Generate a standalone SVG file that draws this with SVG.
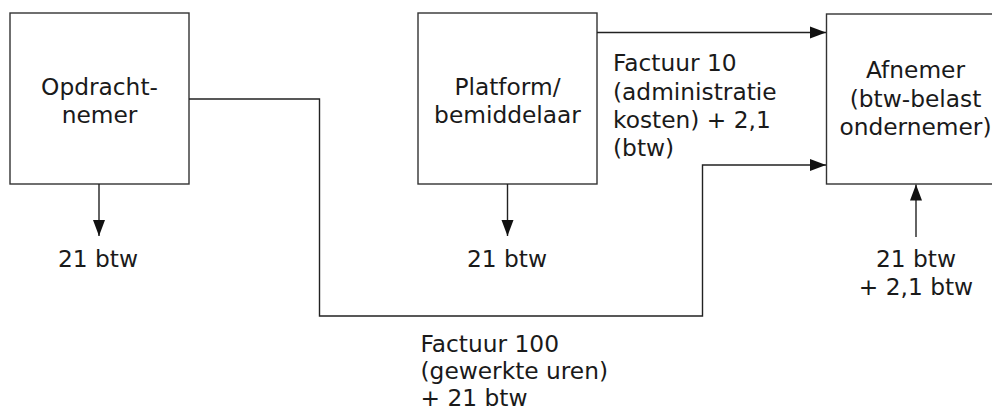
<svg xmlns="http://www.w3.org/2000/svg" width="992" height="412" viewBox="0 0 992 412">
<style>
.box{fill:#fff;stroke:#333;stroke-width:1.4}
.ln{fill:none;stroke:#222;stroke-width:1.4}
text{font-family:"DejaVu Sans","Verdana",sans-serif;font-size:23.3px;fill:#1a1a1a}
.c{text-anchor:middle}
</style>
<defs>
<marker id="ah" markerUnits="userSpaceOnUse" markerWidth="16" markerHeight="13" refX="16" refY="6.5" orient="auto">
<path d="M0,0.5 L16,6.5 L0,12.5 z" fill="#111"/>
</marker>
</defs>
<rect width="992" height="412" fill="#fff"/>
<g id="opdrachtnemer">
<rect class="box" x="10" y="13" width="179" height="171"/>
<text class="c" x="99.5" y="94.5">Opdracht-</text>
<text class="c" x="99.5" y="123">nemer</text>
</g>
<g id="platform">
<rect class="box" x="418" y="13" width="179" height="171"/>
<text class="c" x="507.5" y="94.5">Platform/</text>
<text class="c" x="507.5" y="123">bemiddelaar</text>
</g>
<g id="afnemer">
<rect class="box" x="826.5" y="14" width="179" height="170"/>
<text class="c" x="915.5" y="78">Afnemer</text>
<text class="c" x="915.5" y="106.5">(btw-belast</text>
<text class="c" x="915.5" y="135">ondernemer)</text>
</g>
<g id="connectors">
<line class="ln" x1="99" y1="184" x2="99" y2="236" marker-end="url(#ah)"/>
<line class="ln" x1="507.5" y1="184" x2="507.5" y2="236" marker-end="url(#ah)"/>
<line class="ln" x1="916" y1="237" x2="916" y2="184.5" marker-end="url(#ah)"/>
<line class="ln" x1="597" y1="32.5" x2="826" y2="32.5" marker-end="url(#ah)"/>
<path class="ln" d="M189,99 H319.5 V316 H702.5 V165 H826" marker-end="url(#ah)"/>
</g>
<g id="labels">
<text class="c" x="98" y="266.5">21 btw</text>
<text class="c" x="507" y="266.5">21 btw</text>
<text class="c" x="916" y="266.5">21 btw</text>
<text class="c" x="916" y="295">+ 2,1 btw</text>
<text x="613" y="71">Factuur 10</text>
<text x="613" y="99.5">(administratie</text>
<text x="613" y="128">kosten) + 2,1</text>
<text x="613" y="156">(btw)</text>
<text x="420.5" y="352">Factuur 100</text>
<text x="420.5" y="379">(gewerkte uren)</text>
<text x="420.5" y="406">+ 21 btw</text>
</g>
</svg>
